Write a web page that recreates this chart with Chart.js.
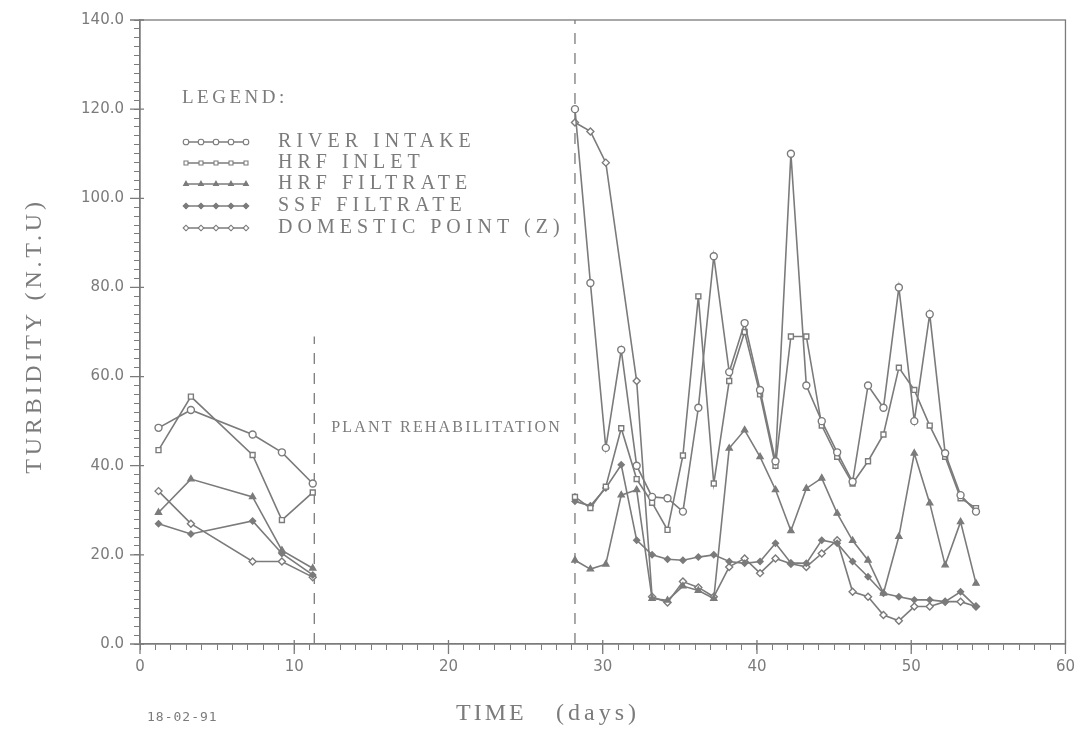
<!DOCTYPE html>
<html>
<head>
<meta charset="utf-8">
<script src="https://cdn.jsdelivr.net/npm/chart.js@4.4.0/dist/chart.umd.min.js"></script>
<style>
  body { margin: 0; background: #fff; }
</style>
</head>
<body>
<canvas id="turbidity" width="1083" height="732"></canvas>
<script>
// sampling days (before and after the plant rehabilitation)
var leftDays = [1.2, 3.3, 7.3, 9.2, 11.2];
var rightDays = [28.2, 29.2, 30.2, 31.2, 32.2, 33.2, 34.2, 35.2, 36.2, 37.2, 38.2, 39.2, 40.2, 41.2,
  42.2, 43.2, 44.2, 45.2, 46.2, 47.2, 48.2, 49.2, 50.2, 51.2, 52.2, 53.2, 54.2];

// turbidity (N.T.U)
var riverLeft = [48.5, 52.5, 47, 43, 36];
var riverRight = [120, 81, 44, 66, 40, 33, 32.7, 29.7, 53, 87, 61, 72, 57, 41, 110, 58, 50, 43, 36.4,
  58, 53, 80, 50, 74, 42.8, 33.4, 29.7];
var inletLeft = [43.5, 55.5, 42.4, 27.8, 34];
var inletRight = [33, 30.5, 35.3, 48.4, 37, 31.7, 25.6, 42.3, 78, 36, 59, 70, 56, 40, 69, 69, 49, 42, 36,
  41, 47, 62, 57, 49, 42, 32.7, 30.5];
var hrfLeft = [29.5, 37, 33, 21, 17];
var hrfRight = [18.8, 16.8, 17.9, 33.4, 34.6, 10.2, 9.8, 13, 12, 10.2, 43.9, 48, 42, 34.6, 25.4, 34.9, 37.2,
  29.3, 23.2, 18.8, 11.4, 24.1, 42.8, 31.6, 17.7, 27.4, 13.6];
var ssfLeft = [27, 24.7, 27.6, 20.3, 15.5];
var ssfRight = [32, 31, 35, 40.2, 23.3, 20, 19, 18.8, 19.5, 20, 18.5, 18.1, 18.5, 22.6, 18.2, 18.1, 23.3,
  22.6, 18.5, 15.1, 11.4, 10.6, 9.9, 9.9, 9.5, 11.7, 8.4];
var domLeft = [34.3, 27, 18.5, 18.5, 15];
var domRight = [117, 115, 108, null, 59, 10.6, 9.3, 14, 12.7, 10.6, 17.3, 19.2, 15.9, 19.2, 18, 17.3, 20.3,
  23.3, 11.7, 10.6, 6.5, 5.2, 8.4, 8.4, 9.5, 9.5, 8.4];

var rehabEndOfFirst = 11.3;   // dashed line, left
var rehabLineTop = 69;
var rehabStart = 28.2;        // dashed line, right

var ink = "#7b7b7b";

function series(leftVals, rightVals) {
  var pts = [];
  leftDays.forEach(function (d, i) {
    if (leftVals[i] !== null) pts.push({ x: d, y: leftVals[i] });
  });
  pts.push({ x: 20, y: null }); // break the line during rehabilitation
  rightDays.forEach(function (d, i) {
    if (rightVals[i] !== null) pts.push({ x: d, y: rightVals[i] });
  });
  return pts;
}

function ds(label, data, style, filled, radius) {
  return {
    label: label,
    data: data,
    borderColor: ink,
    borderWidth: 1.6,
    pointStyle: style,
    pointRadius: radius,
    pointBorderWidth: 1.4,
    pointBorderColor: ink,
    pointBackgroundColor: filled ? ink : "#fff",
    tension: 0,
    spanGaps: false
  };
}

var datasets = [
  ds("RIVER INTAKE", series(riverLeft, riverRight), "circle", false, 3.5),
  ds("HRF INLET", series(inletLeft, inletRight), "rect", false, 3.5),
  ds("HRF FILTRATE", series(hrfLeft, hrfRight), "triangle", true, 3.5),
  ds("SSF FILTRATE", series(ssfLeft, ssfRight), "rectRot", true, 3),
  ds("DOMESTIC POINT (Z)", series(domLeft, domRight), "rectRot", false, 3.5)
];

var serif = "'Liberation Serif', 'DejaVu Serif', serif";

var decorations = {
  id: "decorations",
  beforeDatasetsDraw: function (chart) {
    var ctx = chart.ctx, x = chart.scales.x, y = chart.scales.y, a = chart.chartArea;
    ctx.save();
    ctx.strokeStyle = ink;
    ctx.lineWidth = 1.3;
    ctx.strokeRect(a.left, a.top, a.right - a.left, a.bottom - a.top);
    // longer ticks at labelled values
    ctx.beginPath();
    for (var v = 0; v <= 140; v += 20) {
      var py = y.getPixelForValue(v);
      ctx.moveTo(a.left - 10, py); ctx.lineTo(a.left + 4, py);
    }
    for (var d = 0; d <= 60; d += 10) {
      var px = x.getPixelForValue(d);
      ctx.moveTo(px, a.bottom - 4); ctx.lineTo(px, a.bottom + 10);
    }
    ctx.stroke();
    // rehabilitation markers
    ctx.setLineDash([11, 9]);
    ctx.lineWidth = 1.3;
    ctx.beginPath();
    ctx.moveTo(x.getPixelForValue(rehabEndOfFirst), y.getPixelForValue(0));
    ctx.lineTo(x.getPixelForValue(rehabEndOfFirst), y.getPixelForValue(rehabLineTop));
    ctx.moveTo(x.getPixelForValue(rehabStart), y.getPixelForValue(0));
    ctx.lineTo(x.getPixelForValue(rehabStart), y.getPixelForValue(140));
    ctx.stroke();
    ctx.setLineDash([]);
    ctx.fillStyle = ink;
    ctx.font = "16px " + serif;
    ctx.letterSpacing = "2.2px";
    ctx.textBaseline = "middle";
    ctx.fillText("PLANT REHABILITATION", x.getPixelForValue(12.4), y.getPixelForValue(48.6));
    ctx.restore();
  },
  afterDraw: function (chart) {
    var ctx = chart.ctx;
    ctx.save();
    ctx.fillStyle = ink;
    ctx.strokeStyle = ink;
    ctx.textBaseline = "middle";
    // legend block
    ctx.font = "19px " + serif;
    ctx.letterSpacing = "3.5px";
    ctx.fillText("LEGEND:", 182, 98);
    var rows = [142, 163, 184, 206, 228];
    chart.data.datasets.forEach(function (set, i) {
      var yy = rows[i];
      ctx.lineWidth = 1.3;
      ctx.beginPath();
      ctx.moveTo(186, yy); ctx.lineTo(246, yy);
      ctx.stroke();
      for (var k = 0; k < 5; k++) {
        ctx.fillStyle = set.pointBackgroundColor;
        ctx.strokeStyle = ink;
        ctx.lineWidth = 1.1;
        Chart.helpers.drawPoint(ctx, {
          pointStyle: set.pointStyle, radius: 2.8, rotation: 0, borderWidth: 1.1
        }, 186 + k * 15, yy);
      }
      ctx.fillStyle = ink;
      ctx.font = "20px " + serif;
      ctx.letterSpacing = "5px";
      ctx.fillText(set.label, 278, yy);
    });
    // axis titles and date stamp
    ctx.letterSpacing = "3px";
    ctx.font = "24px " + serif;
    ctx.textAlign = "left";
    ctx.fillText("TIME", 456, 714);
    ctx.letterSpacing = "4px";
    ctx.fillText("(days)", 556, 714);
    ctx.font = "13px 'DejaVu Sans Mono', monospace";
    ctx.letterSpacing = "1px";
    ctx.fillText("18-02-91", 147, 718);
    ctx.translate(35, 336);
    ctx.rotate(-Math.PI / 2);
    ctx.textAlign = "center";
    ctx.font = "24px " + serif;
    ctx.letterSpacing = "3.8px";
    ctx.fillText("TURBIDITY (N.T.U)", 0, 0);
    ctx.restore();
  }
};

new Chart(document.getElementById("turbidity"), {
  type: "line",
  data: { datasets: datasets },
  plugins: [decorations],
  options: {
    responsive: false,
    animation: false,
    layout: { padding: { top: 20, right: 12, left: 0, bottom: 0 } },
    plugins: { legend: { display: false }, tooltip: { enabled: false } },
    scales: {
      x: {
        type: "linear",
        min: 0,
        max: 60,
        afterFit: function (s) { s.height = 88; },
        border: { display: true, color: ink, width: 1.3 },
        grid: { display: true, drawOnChartArea: false, drawTicks: true, tickLength: 6, color: ink, lineWidth: 1 },
        ticks: {
          stepSize: 1,
          autoSkip: false,
          maxRotation: 0,
          padding: 8,
          color: ink,
          font: { family: "'DejaVu Sans'", size: 15 },
          callback: function (v) { return v % 10 === 0 ? String(v) : ""; }
        }
      },
      y: {
        min: 0,
        max: 140,
        afterFit: function (s) { s.width = 140; },
        border: { display: true, color: ink, width: 1.3 },
        grid: { display: true, drawOnChartArea: false, drawTicks: true, tickLength: 6, color: ink, lineWidth: 1 },
        ticks: {
          stepSize: 2,
          autoSkip: false,
          padding: 10,
          color: ink,
          font: { family: "'DejaVu Sans'", size: 15 },
          callback: function (v) { return v % 20 === 0 ? v.toFixed(1) : ""; }
        }
      }
    }
  }
});
</script>
</body>
</html>
